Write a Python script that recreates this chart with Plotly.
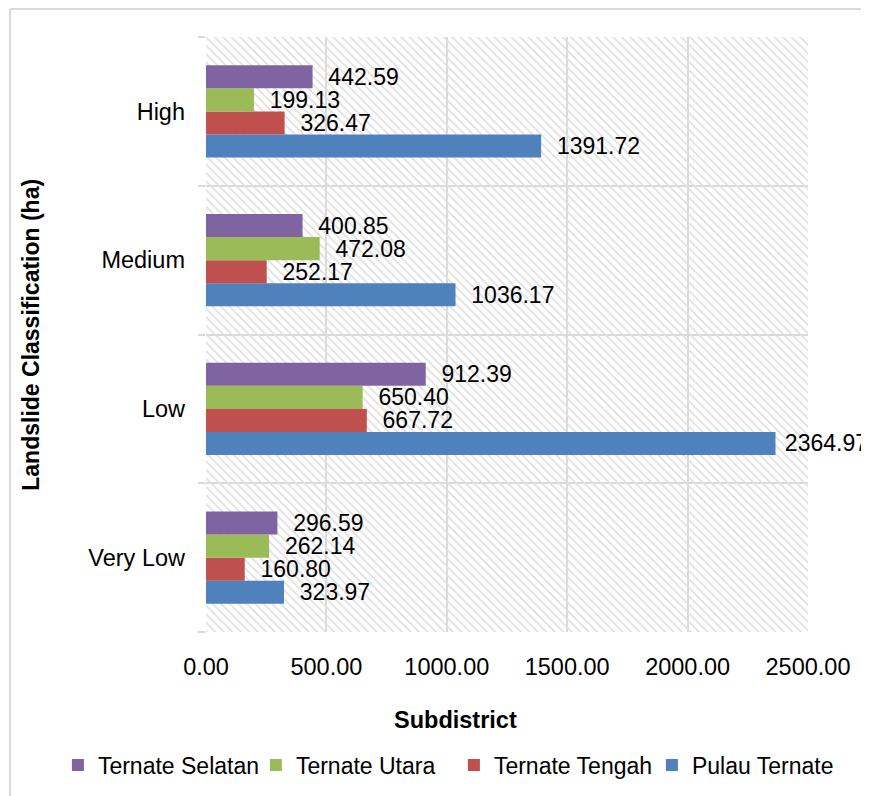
import plotly.graph_objects as go

categories = ["Very Low", "Low", "Medium", "High"]
series_names = ["Pulau Ternate", "Ternate Tengah", "Ternate Utara", "Ternate Selatan"]
pulau_ternate = [323.97, 2364.97, 1036.17, 1391.72]
ternate_tengah = [160.80, 667.72, 252.17, 326.47]
ternate_utara = [262.14, 650.40, 472.08, 199.13]
ternate_selatan = [296.59, 912.39, 400.85, 442.59]
x_ticks = [0, 500, 1000, 1500, 2000, 2500]
x_tick_labels = ["0.00", "500.00", "1000.00", "1500.00", "2000.00", "2500.00"]

colors = ["#4F81BD", "#C0504D", "#9BBB59", "#8064A2"]
values = [pulau_ternate, ternate_tengah, ternate_utara, ternate_selatan]
FONT = "Liberation Sans, Arial, sans-serif"
FS = 23
GRID = "#d9d9d9"
LABEL = "\u00a0\u00a0%{x:.2f}"
LABEL_TIGHT = "\u00a0%{x:.2f}"

fig = go.Figure()

# hatched plot-area background
fig.add_trace(go.Bar(
    x=[x_ticks[-1]], y=[0.5], base=[0], width=[1], orientation="h",
    xaxis="x", yaxis="y", showlegend=False, hoverinfo="skip",
    marker=dict(color="#e0e0e0", line=dict(width=0),
                pattern=dict(shape="\\", fillmode="replace", size=6, solidity=0.3,
                             bgcolor="rgba(0,0,0,0)")),
))

for name, vals, col in zip(series_names, values, colors):
    # the label of the longest bar sits closer to its bar, as in the reference
    templates = [LABEL_TIGHT if v > 2000 else LABEL for v in vals]
    fig.add_trace(go.Bar(
        name=name, y=categories, x=vals, orientation="h",
        xaxis="x", yaxis="y2",
        marker=dict(color=col, line=dict(width=0)),
        texttemplate=templates, textposition="outside",
        textfont=dict(family=FONT, size=FS, color="#000000"),
        constraintext="none", cliponaxis=False,
    ))

fig.update_layout(
    width=869, height=796,
    paper_bgcolor="white", plot_bgcolor="white",
    margin=dict(l=198, r=69, t=29, b=172, autoexpand=False),
    barmode="group", bargap=0.38, bargroupgap=0,
    font=dict(family=FONT, size=FS, color="#000000"),
    xaxis=dict(range=[0, 2500], tickvals=x_ticks, ticktext=x_tick_labels,
               showgrid=True, gridcolor=GRID, gridwidth=2, zeroline=False,
               showline=False, ticks="", ticklabelstandoff=18, automargin=False,
               tickfont=dict(family=FONT, size=23.5, color="#000000")),
    yaxis=dict(range=[0, 1], tickvals=[0, 0.25, 0.5, 0.75, 1], showticklabels=False,
               showgrid=True, gridcolor=GRID, gridwidth=2, zeroline=False, automargin=False,
               ticks="outside", ticklen=7, tickcolor=GRID, tickwidth=2),
    yaxis2=dict(type="category", categoryorder="array", categoryarray=categories,
                overlaying="y", side="left", showgrid=False, zeroline=False,
                ticks="", ticklabelstandoff=20, automargin=False,
                tickfont=dict(family=FONT, size=23.5, color="#000000")),
    legend=dict(orientation="h", traceorder="reversed", x=-0.246, xanchor="left",
                y=-0.2235, yanchor="middle", font=dict(family=FONT, size=23),
                itemwidth=30, entrywidthmode="pixels", entrywidth=153),
    annotations=[
        dict(text="<b>Subdistrict</b>", xref="paper", yref="paper", x=0.414, y=-0.148,
             showarrow=False, font=dict(family=FONT, size=23.5), xanchor="center", yanchor="middle"),
        dict(text="<b>Landslide Classification (ha)</b>", xref="paper", yref="paper",
             x=-0.292, y=0.5, textangle=-90, showarrow=False,
             font=dict(family=FONT, size=23), xanchor="center", yanchor="middle"),
    ],
    shapes=[
        dict(type="line", xref="paper", yref="paper", x0=-0.3256, x1=1.2, y0=1.047, y1=1.047,
             line=dict(color=GRID, width=2)),
        dict(type="line", xref="paper", yref="paper", x0=-0.3256, x1=-0.3256, y0=1.047, y1=-0.4,
             line=dict(color=GRID, width=2)),
    ],
)

fig.write_html("out.html")
